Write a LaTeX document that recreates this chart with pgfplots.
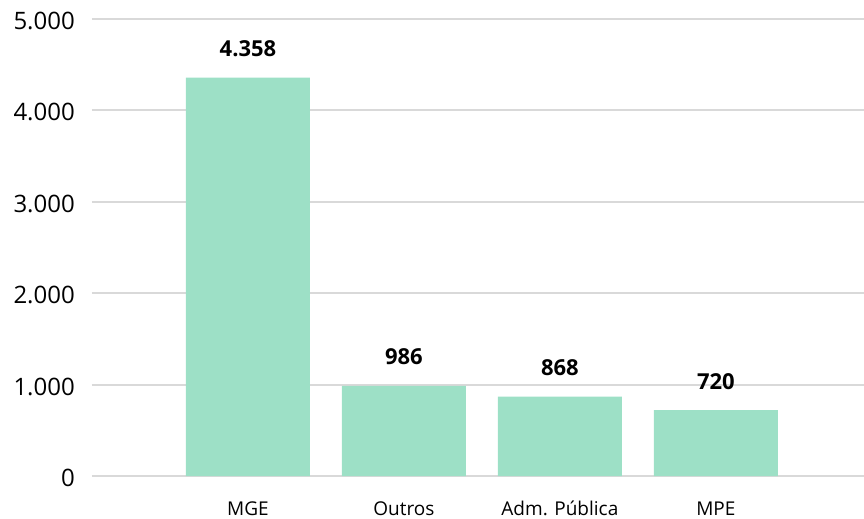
\documentclass[border=0pt]{standalone}
\usepackage{fontspec}
\setmainfont{Open Sans}
\usepackage{pgfplots}
\pgfplotsset{compat=1.18}
\definecolor{barcol}{RGB}{157,224,198}
\definecolor{gridcol}{RGB}{217,217,217}
\begin{document}
\begin{tikzpicture}
\begin{axis}[
  scale only axis,
  width=772bp, height=457bp,
  xmin=0, xmax=4.95,
  ymin=0, ymax=5000,
  ytick={0,1000,2000,3000,4000,5000},
  xtick={1,2,3,4},
  xticklabels={MGE,Outros,Adm. Pública,MPE},
  scaled y ticks=false,
  /pgf/number format/.cd, 1000 sep={.}, assume math mode=true, /pgfplots/.cd,
  axis line style={draw=none},
  major tick length=0pt,
  ymajorgrids,
  grid style={color=gridcol, line width=2bp},
  yticklabel style={font=\fontsize{24bp}{28bp}\selectfont, anchor=east, inner sep=0pt, xshift=-17bp, yshift=-2bp},
  xticklabel style={font=\fontsize{19bp}{22bp}\selectfont, anchor=base, inner sep=0pt, yshift=-39bp},
  ybar, bar width=124bp,
  nodes near coords,
  every node near coord/.append style={font=\bfseries\fontsize{22bp}{26bp}\selectfont, anchor=base, inner sep=0pt, yshift=21bp},
  clip=false,
]
\addplot[fill=barcol, draw=none, bar shift=0pt] coordinates {(1,4358) (2,986) (3,868) (4,720)};
\coordinate (bl) at (rel axis cs:0,0);
\coordinate (tr) at (rel axis cs:1,1);
\end{axis}
\pgfresetboundingbox
\path[use as bounding box] ([xshift=-92bp,yshift=-43bp]bl) rectangle ([yshift=19bp]tr);
\end{tikzpicture}
\end{document}
